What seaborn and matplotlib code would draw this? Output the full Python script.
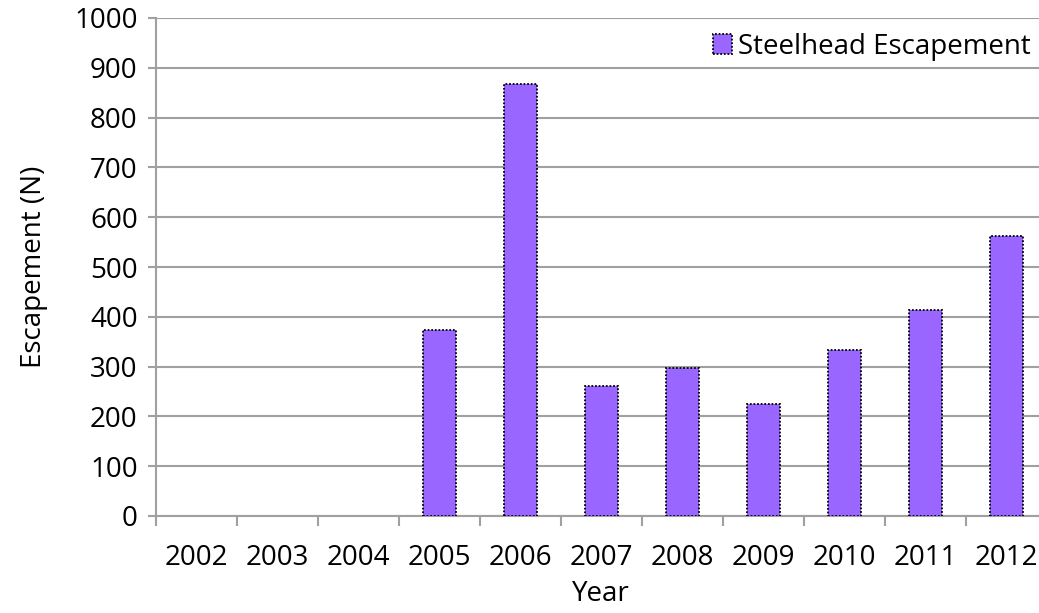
import matplotlib
matplotlib.use("Agg")
import matplotlib.pyplot as plt
from matplotlib.patches import Patch
import numpy as np
import pandas as pd
import seaborn as sns

years = ["2002", "2003", "2004", "2005", "2006", "2007",
         "2008", "2009", "2010", "2011", "2012"]
escapement = [np.nan, np.nan, np.nan, 373, 868, 261, 298, 225, 334, 413, 563]
y_ticks = [0, 100, 200, 300, 400, 500, 600, 700, 800, 900, 1000]

series_name = "Steelhead Escapement"
bar_color = "#9966FF"
grid_color = "#A0A0A0"
fs = 20

sns.set_theme(style="white")
plt.rcParams["font.family"] = ["Open Sans", "DejaVu Sans"]
plt.rcParams["text.color"] = "black"
plt.rcParams["axes.labelcolor"] = "black"
plt.rcParams["xtick.color"] = "black"
plt.rcParams["ytick.color"] = "black"

df = pd.DataFrame({"Year": years, "Escapement": escapement})

fig = plt.figure(figsize=(10.39, 6.13), dpi=100)
ax = fig.add_axes([155.7 / 1039, 97 / 613, 891 / 1039, 498 / 613])

sns.barplot(data=df, x="Year", y="Escapement", order=years, color=bar_color,
            width=0.41, edgecolor="black", linewidth=1.3,
            linestyle=(0, (1, 1)), saturation=1, ax=ax, zorder=3)

ax.set_ylim(0, 1000)
ax.set_xlim(-0.5, len(years) - 0.5)
ax.set_yticks(y_ticks)
ax.set_yticklabels([str(v) for v in y_ticks])
ax.yaxis.grid(True, color=grid_color, linewidth=1.5, zorder=0)
ax.xaxis.grid(False)
ax.set_axisbelow(True)

# category boundary ticks on the x axis
ax.set_xticks(np.arange(len(years)))
ax.set_xticklabels(years)
ax.set_xticks(np.arange(len(years) + 1) - 0.5, minor=True)
ax.tick_params(axis="x", which="major", length=0, pad=20, labelsize=fs,
               labelcolor="black")
ax.tick_params(axis="x", which="minor", length=7, width=1.5, color=grid_color,
               direction="out", bottom=True)
ax.tick_params(axis="y", length=6, width=1.5, color=grid_color, pad=7,
               labelsize=fs, left=True, labelcolor="black")

for side in ["top", "right"]:
    ax.spines[side].set_visible(False)
for side in ["left", "bottom"]:
    ax.spines[side].set_color(grid_color)
    ax.spines[side].set_linewidth(1.5)

ax.set_xlabel("Year", fontsize=fs, labelpad=6, color="black")
ax.set_ylabel("Escapement (N)", fontsize=fs, color="black")
ax.yaxis.set_label_coords((48 - 155.7) / 891, 0.5)

handle = Patch(facecolor=bar_color, edgecolor="black", linewidth=1.3,
               linestyle=(0, (1, 1)), label=series_name)
ax.legend(handles=[handle], loc="upper left",
          bbox_to_anchor=(699 / 1039, 1 - 19 / 613), bbox_transform=fig.transFigure,
          frameon=False, fontsize=fs, handlelength=0.7, handleheight=0.7,
          handletextpad=0.2, borderpad=0, labelcolor="black")

fig.savefig("out.png", dpi=100)
